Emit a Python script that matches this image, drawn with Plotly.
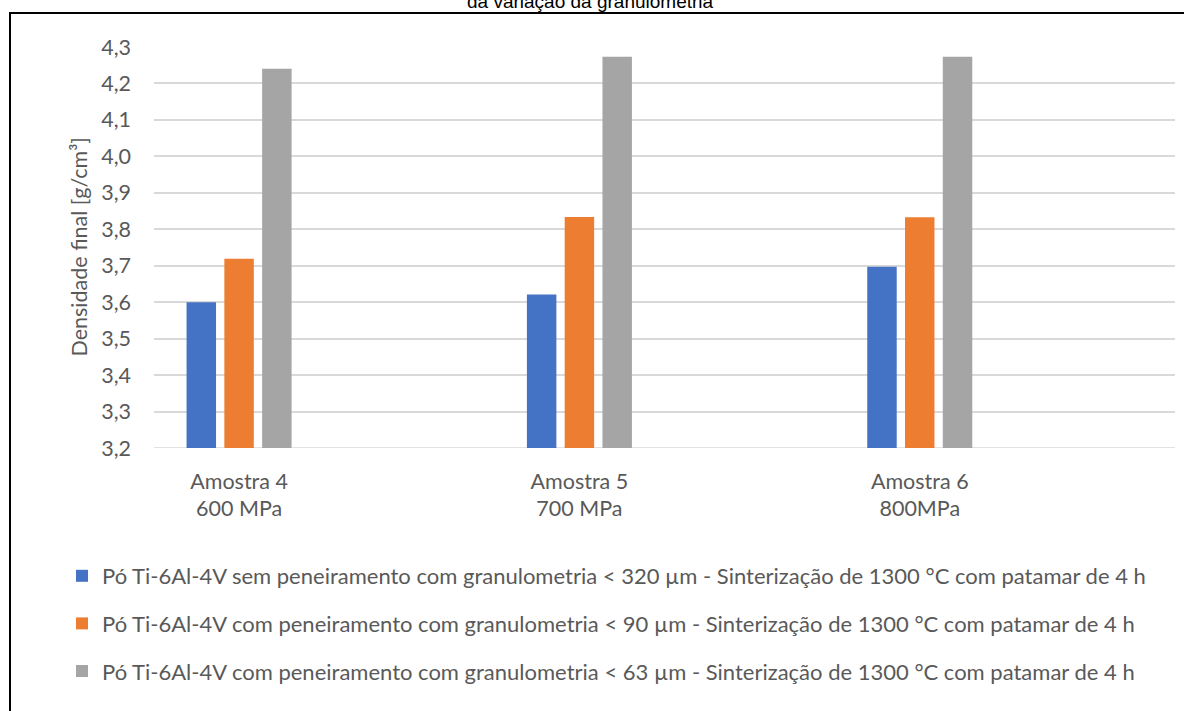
import plotly.graph_objects as go

# Amostras and compaction pressure
categories = ["Amostra 4<br>600 MPa", "Amostra 5<br>700 MPa", "Amostra 6<br>800MPa"]

# Final density [g/cm³] for each powder condition
serie_320 = [3.600, 3.621, 3.697]
serie_90 = [3.719, 3.834, 3.833]
serie_63 = [4.240, 4.273, 4.273]

series_names = [
    "Pó Ti-6Al-4V sem peneiramento com granulometria < 320 µm - Sinterização de 1300 °C com patamar de 4 h",
    "Pó Ti-6Al-4V com peneiramento com granulometria < 90 µm - Sinterização de 1300 °C com patamar de 4 h",
    "Pó Ti-6Al-4V com peneiramento com granulometria < 63 µm - Sinterização de 1300 °C com patamar de 4 h",
]
series_values = [serie_320, serie_90, serie_63]
series_colors = ["#4472C4", "#ED7D31", "#A5A5A5"]

y_ticks = [3.2, 3.3, 3.4, 3.5, 3.6, 3.7, 3.8, 3.9, 4.0, 4.1, 4.2, 4.3]

FONT = "Lato, Carlito, Calibri, sans-serif"
TEXT_GRAY = "#595959"
FS = 21.5
FS_LEG = 22

W, H = 1184, 711
ML, MR, MT, MB = 154, 9, 47, 263
PW, PH = W - ML - MR, H - MT - MB


def px_x(px):
    return (px - ML) / PW


def px_y(py):
    return (H - MB - py) / PH


fig = go.Figure()
xpos = list(range(len(categories)))
for i, (name, vals, col) in enumerate(zip(series_names, series_values, series_colors)):
    fig.add_trace(go.Bar(
        x=xpos, y=vals, name=name, legendgroup=f"g{i}",
        marker=dict(color=col, line=dict(width=0)),
    ))

fig.update_layout(
    width=W, height=H,
    margin=dict(l=ML, r=MR, t=MT, b=MB),
    paper_bgcolor="white", plot_bgcolor="white",
    separators=",.",
    barmode="group", bargap=0.667, bargroupgap=0.22,
    font=dict(family=FONT, color=TEXT_GRAY, size=FS),
    showlegend=True,
    legend=dict(
        x=px_x(62), xanchor="left", y=px_y(555), yanchor="top",
        orientation="v", tracegroupgap=16,
        font=dict(family=FONT, size=FS_LEG, color=TEXT_GRAY),
        bgcolor="rgba(0,0,0,0)",
    ),
    xaxis=dict(
        range=[-0.25, 2.75], tickmode="array", tickvals=xpos, ticktext=categories,
        showgrid=False, zeroline=False, showline=False, ticks="",
        ticklabelstandoff=18,
        tickfont=dict(family=FONT, size=FS, color=TEXT_GRAY),
    ),
    yaxis=dict(
        range=[3.2, 4.3], tickmode="array", tickvals=y_ticks, tickformat=".1f",
        showgrid=True, gridcolor="#D9D9D9", gridwidth=1.5,
        zeroline=False, showline=False, ticks="",
        ticklabelstandoff=22,
        tickfont=dict(family=FONT, size=FS, color=TEXT_GRAY),
    ),
)

# Baseline of the value axis
fig.add_shape(type="line", xref="paper", yref="y", x0=0, x1=1, y0=3.2, y1=3.2,
              line=dict(color="#D9D9D9", width=1.5), layer="below")

# Frame around the chart
fig.add_shape(type="rect", xref="paper", yref="paper",
              x0=px_x(10), x1=px_x(1195), y0=px_y(13), y1=px_y(730),
              line=dict(color="black", width=2), fillcolor="rgba(0,0,0,0)")

# Axis title
fig.add_annotation(
    text="Densidade final [g/cm³]", textangle=-90,
    xref="paper", yref="paper", x=px_x(78), y=0.5,
    xanchor="center", yanchor="middle", showarrow=False,
    font=dict(family=FONT, size=FS, color=TEXT_GRAY),
)

# Chart title (second line, partly above the page edge)
fig.add_annotation(
    text="da variação da granulometria",
    xref="paper", yref="paper", x=px_x(590), y=px_y(14),
    xanchor="center", yanchor="bottom", showarrow=False,
    font=dict(family="Liberation Sans, Arial, sans-serif", size=19, color="black"),
)

fig.write_html("out.html")
